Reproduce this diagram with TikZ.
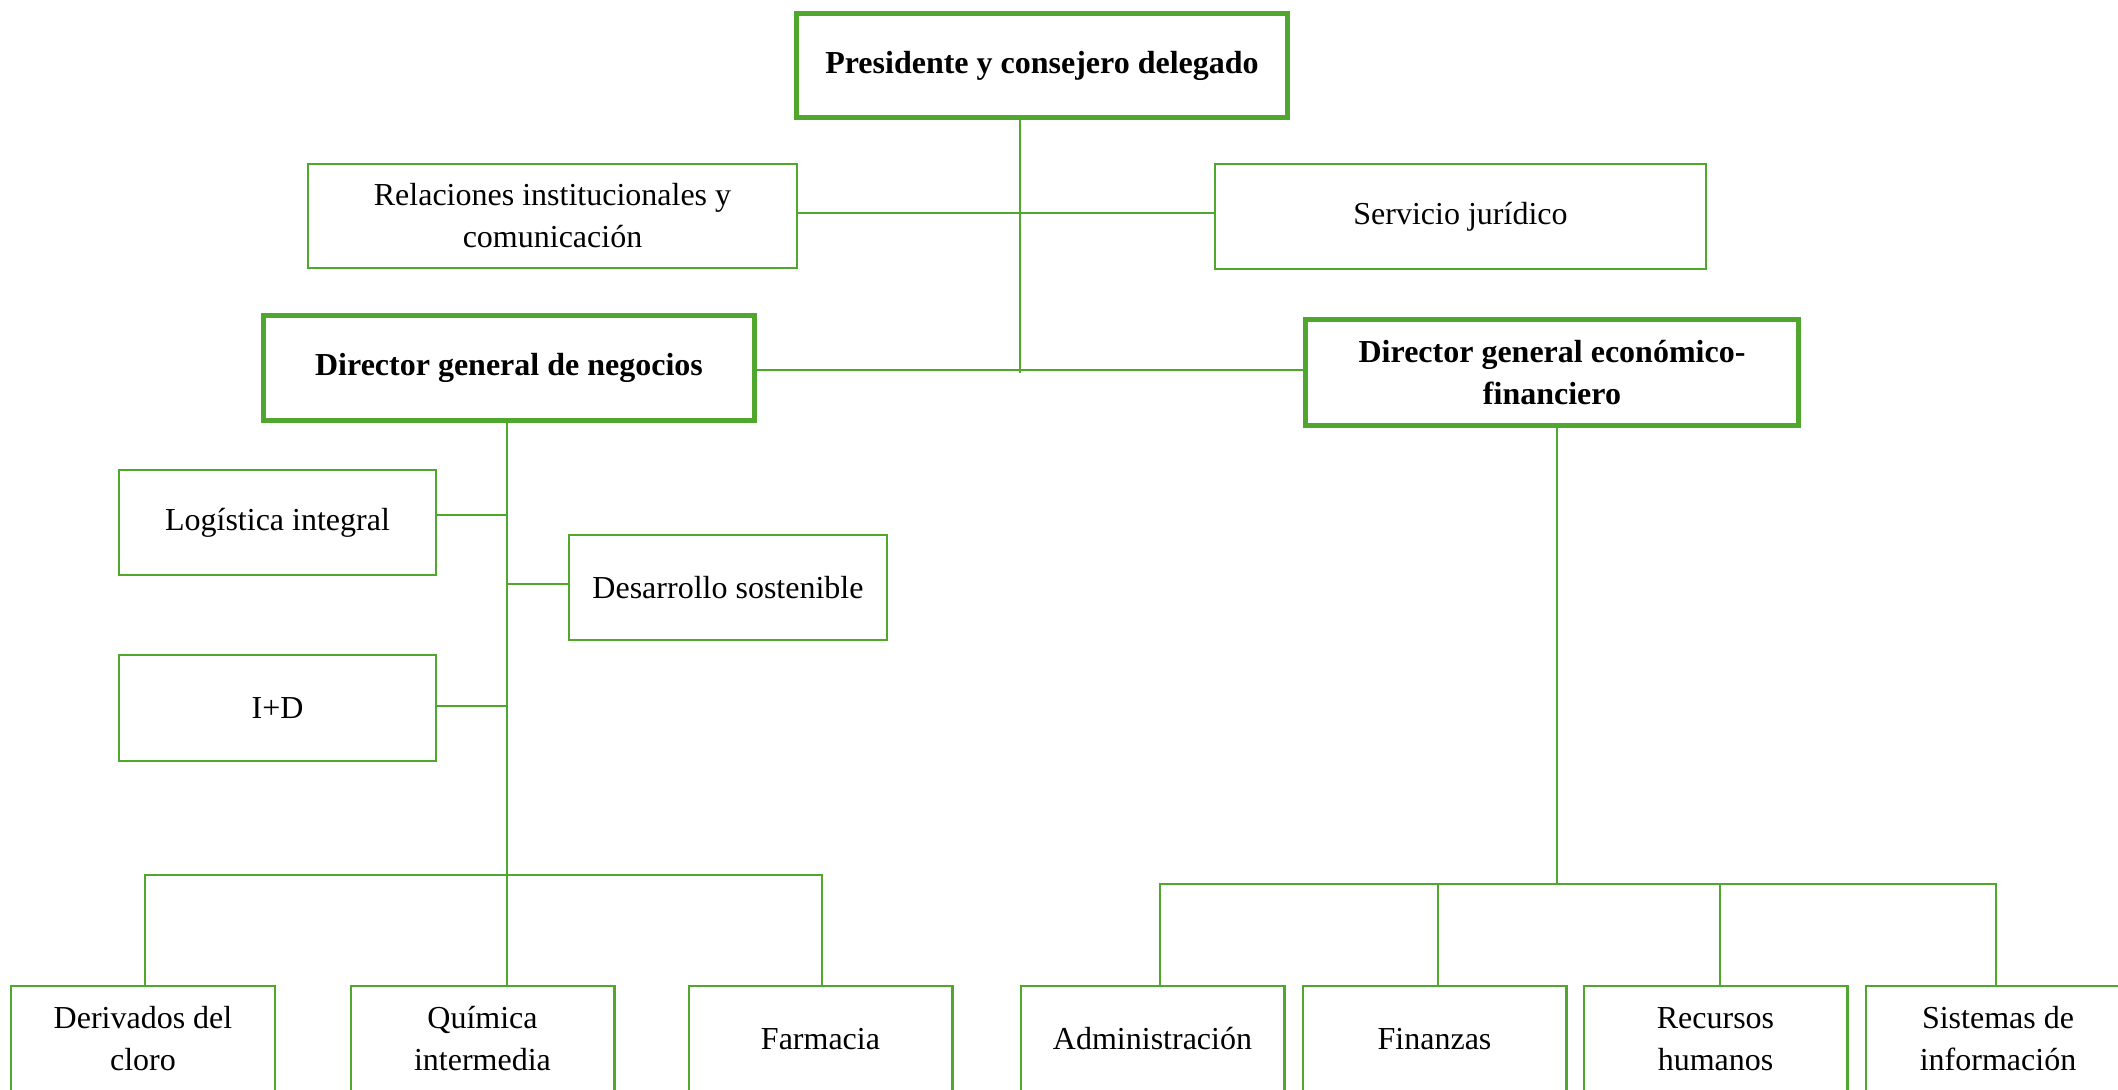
\documentclass[tikz,border=0pt]{standalone}
\usepackage{fontspec}
\setmainfont{Liberation Serif}
\definecolor{ogreen}{RGB}{80,167,46}
\begin{document}
\begin{tikzpicture}[x=0.5pt,y=-0.5pt,
  every node/.style={font=\fontsize{16pt}{21pt}\selectfont, align=center, inner sep=0pt},
  obox/.style={draw=ogreen, line width=1.2pt},
  tbox/.style={draw=ogreen, line width=2.5pt, font=\fontsize{16pt}{21pt}\selectfont\bfseries},
  bbox/.style={obox, minimum width=131.8pt, minimum height=52.5pt},
  conn/.style={draw=ogreen, line width=1.2pt}]
\useasboundingbox (0,0) rectangle (2118,1089);
% top level
\node[tbox, minimum width=245.5pt, minimum height=52pt] (pres) at (1042,65.5) {Presidente y consejero delegado};
\node[obox, minimum width=244.5pt, minimum height=52pt] (rel) at (552.5,216) {Relaciones institucionales y\\comunicación};
\node[obox, minimum width=245.5pt, minimum height=52.5pt] (srv) at (1460.5,216.5) {Servicio jurídico};
\node[tbox, minimum width=245.5pt, minimum height=52.5pt] (dgn) at (509,368) {Director general de negocios};
\node[tbox, minimum width=246.5pt, minimum height=53pt] (dgef) at (1552,372.5) {Director general económico-\\financiero};
% staff under negocios
\node[obox, minimum width=158.5pt, minimum height=52.5pt] (log) at (277.5,522.5) {Logística integral};
\node[obox, minimum width=159pt, minimum height=52.5pt] (des) at (728,587.5) {Desarrollo sostenible};
\node[obox, minimum width=158.5pt, minimum height=53pt] (ipd) at (277.5,708) {I+D};
% bottom row
\node[bbox] (der) at (143,1038.7) {Derivados del\\cloro};
\node[bbox] (qui) at (482.5,1038.7) {Química\\intermedia};
\node[bbox] (far) at (820.5,1038.7) {Farmacia};
\node[bbox] (adm) at (1152.5,1038.7) {Administración};
\node[bbox] (fin) at (1434.5,1038.7) {Finanzas};
\node[bbox] (rec) at (1715.5,1038.7) {Recursos\\humanos};
\node[bbox] (sis) at (1998,1038.7) {Sistemas de\\información};
% helper coordinates
\coordinate (hA) at (0,213);
\coordinate (hB) at (0,370);
\coordinate (vtop) at (1020,373);
\coordinate (trunkL) at (507,0);
\coordinate (trunkR) at (1557,0);
\coordinate (cLog) at (0,515);
\coordinate (cDes) at (0,584);
\coordinate (cIpd) at (0,706);
\coordinate (barL) at (0,875);
\coordinate (barR) at (0,884);
\coordinate (xDer) at (145,0);
\coordinate (xFar) at (822,0);
\coordinate (xAdm) at (1160,0);
\coordinate (xFin) at (1438,0);
\coordinate (xRec) at (1720,0);
\coordinate (xSis) at (1996,0);
% connectors
\draw[conn] (vtop |- pres.south) -- (vtop);
\draw[conn] (rel.east |- hA) -- (srv.west |- hA);
\draw[conn] (dgn.east |- hB) -- (dgef.west |- hB);
\draw[conn] (trunkL |- dgn.south) -- (trunkL |- qui.north);
\draw[conn] (log.east |- cLog) -- (trunkL |- cLog);
\draw[conn] (des.west |- cDes) -- (trunkL |- cDes);
\draw[conn] (ipd.east |- cIpd) -- (trunkL |- cIpd);
\draw[conn] (xDer |- der.north) -- (xDer |- barL) -- (xFar |- barL) -- (xFar |- far.north);
\draw[conn] (trunkR |- dgef.south) -- (trunkR |- barR);
\draw[conn] (xAdm |- adm.north) -- (xAdm |- barR) -- (xSis |- barR) -- (xSis |- sis.north);
\draw[conn] (xFin |- fin.north) -- (xFin |- barR);
\draw[conn] (xRec |- rec.north) -- (xRec |- barR);
\end{tikzpicture}
\end{document}
